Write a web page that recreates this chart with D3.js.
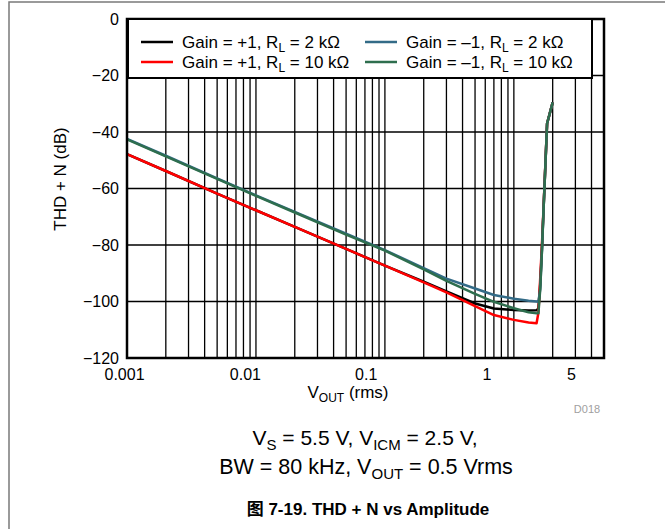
<!DOCTYPE html>
<html>
<head>
<meta charset="utf-8">
<script src="https://cdn.jsdelivr.net/npm/d3@7"></script>
<style>
  html, body { margin: 0; padding: 0; background: #fff; }
  svg { display: block; font-family: "Liberation Sans", Arial, Helvetica, "Noto Sans CJK SC", sans-serif; }
</style>
</head>
<body>
<svg id="chart" width="665" height="529"></svg>
<script>
// Output amplitude (Vrms) sample points shared by all four traces
const vout = [0.001, 0.002, 0.005, 0.01, 0.02, 0.05, 0.1, 0.2, 0.3, 0.5, 0.7, 1.0, 1.3, 1.5, 1.55, 1.6, 1.65, 1.7, 1.81, 2.0];

// THD + N (dB) for each configuration
const thdGainP1_2k  = [-47.8, -53.8, -61.8, -67.7, -73.6, -81.4, -87.3, -93.0, -96.4, -100.7, -102.5, -103.0, -103.2, -103.1, -102.5, -94.0, -81.5, -67.0, -37.0, -29.5];
const thdGainP1_10k = [-47.8, -53.8, -61.8, -67.7, -73.6, -81.4, -87.3, -93.2, -96.8, -101.6, -104.8, -106.5, -107.4, -107.7, -104.0, -92.0, -80.0, -66.5, -37.0, -29.5];
const thdGainM1_2k  = [-42.4, -48.4, -56.4, -62.4, -68.3, -76.0, -81.8, -88.2, -91.9, -95.4, -97.7, -99.0, -99.7, -100.0, -100.1, -95.8, -82.3, -67.2, -37.0, -29.5];
const thdGainM1_10k = [-42.6, -48.6, -56.6, -62.6, -68.5, -76.3, -82.0, -88.6, -92.7, -97.3, -100.1, -102.4, -103.8, -104.2, -104.2, -95.8, -82.3, -67.2, -37.0, -29.5];

const seriesGain  = ["+1", "+1", "\u20131", "\u20131"];
const seriesLoad  = ["2", "10", "2", "10"];
const seriesColor = ["#000000", "#ff0000", "#336b87", "#2e6e4e"];
const seriesData  = [thdGainP1_2k, thdGainP1_10k, thdGainM1_2k, thdGainM1_10k];

const xTicks = [0.001, 0.01, 0.1, 1, 5];
const yTicks = [0, -20, -40, -60, -80, -100, -120];

const svg = d3.select("#chart");

// page frame
svg.append("rect")
  .attr("x", 9).attr("y", 2).attr("width", 720).attr("height", 600)
  .attr("fill", "none").attr("stroke", "#7a7a7a").attr("stroke-width", 1.5);

const plot = { left: 127, right: 604, top: 19, bottom: 358 };

const x = d3.scaleLog().domain([0.001, 5]).range([plot.left, plot.right]);
const xLabel = d3.scaleLog().domain([0.001, 5]).range([124, 571]);
const y = d3.scaleLinear().domain([-120, 0]).range([plot.bottom, plot.top]);

// grid: every 1..9 multiple per decade
const xGrid = [];
for (let e = -3; e <= 0; e++) {
  for (let m = 1; m <= 9; m++) {
    const v = m * Math.pow(10, e);
    if (v > 0.001 && v < 5) xGrid.push(v);
  }
}
const grid = svg.append("g");
grid.selectAll("line.v").data(xGrid).join("line")
  .attr("x1", d => x(d)).attr("x2", d => x(d))
  .attr("y1", plot.top).attr("y2", plot.bottom)
  .attr("stroke", "#000").attr("stroke-width", 1.3);
grid.selectAll("line.h").data(yTicks.slice(1, -1)).join("line")
  .attr("x1", plot.left).attr("x2", plot.right)
  .attr("y1", d => y(d)).attr("y2", d => y(d))
  .attr("stroke", "#000").attr("stroke-width", 1.4);

// traces
const line = d3.line()
  .x((d, i) => x(vout[i]))
  .y(d => y(d));
svg.append("g").selectAll("path").data(seriesData).join("path")
  .attr("d", d => line(d))
  .attr("fill", "none")
  .attr("stroke", (d, i) => seriesColor[i])
  .attr("stroke-width", 2.5)
  .attr("stroke-linejoin", "round");

// plot frame
svg.append("rect")
  .attr("x", plot.left).attr("y", plot.top)
  .attr("width", plot.right - plot.left).attr("height", plot.bottom - plot.top)
  .attr("fill", "none").attr("stroke", "#000").attr("stroke-width", 2.5);

// legend
const legend = svg.append("g");
legend.append("rect")
  .attr("x", 128).attr("y", 19).attr("width", 464).attr("height", 59)
  .attr("fill", "#fff").attr("stroke", "#000").attr("stroke-width", 2);
const legPos = [[141, 42], [141, 62], [365, 42], [365, 62]];
seriesData.forEach((s, i) => {
  const [lx, ly] = legPos[i];
  legend.append("line")
    .attr("x1", lx).attr("x2", lx + 32).attr("y1", ly).attr("y2", ly)
    .attr("stroke", seriesColor[i]).attr("stroke-width", 2.5);
  const t = legend.append("text")
    .attr("x", lx + 41).attr("y", ly + 6)
    .attr("font-size", 17).attr("fill", "#000");
  t.append("tspan").text(`Gain = ${seriesGain[i]}, R`);
  t.append("tspan").attr("font-size", 12).attr("dy", 4).text("L");
  t.append("tspan").attr("dy", -4).text(` = ${seriesLoad[i]} k\u03A9`);
});

// axes
const xAxis = svg.append("g")
  .attr("transform", `translate(0,${plot.bottom})`)
  .call(d3.axisBottom(xLabel).tickValues(xTicks).tickFormat(d => String(d)).tickSize(0).tickPadding(11));
const yAxis = svg.append("g")
  .attr("transform", `translate(${plot.left},0)`)
  .call(d3.axisLeft(y).tickValues(yTicks).tickFormat(d3.format("d")).tickSize(0).tickPadding(8));
[xAxis, yAxis].forEach(a => {
  a.select(".domain").remove();
  a.selectAll("text").attr("font-size", 16).attr("fill", "#000")
    .attr("font-family", "'Liberation Sans', Arial, Helvetica, sans-serif");
});

// axis titles
svg.append("text")
  .attr("transform", "translate(66,179) rotate(-90)")
  .attr("text-anchor", "middle").attr("font-size", 17).attr("fill", "#000")
  .text("THD + N (dB)");

const xTitle = svg.append("text")
  .attr("x", 348).attr("y", 398)
  .attr("text-anchor", "middle").attr("font-size", 17).attr("fill", "#000");
xTitle.append("tspan").text("V");
xTitle.append("tspan").attr("font-size", 12).attr("dy", 4).text("OUT");
xTitle.append("tspan").attr("dy", -4).text(" (rms)");

svg.append("text")
  .attr("x", 587).attr("y", 413)
  .attr("text-anchor", "middle").attr("font-size", 11).attr("fill", "#a0a0a0")
  .text("D018");

// conditions
const c1 = svg.append("text")
  .attr("x", 365).attr("y", 445)
  .attr("text-anchor", "middle").attr("font-size", 21).attr("fill", "#000");
c1.append("tspan").text("V");
c1.append("tspan").attr("font-size", 15).attr("dy", 5).text("S");
c1.append("tspan").attr("dy", -5).text(" = 5.5 V, V");
c1.append("tspan").attr("font-size", 15).attr("dy", 5).text("ICM");
c1.append("tspan").attr("dy", -5).text(" = 2.5 V,");

const c2 = svg.append("text")
  .attr("x", 366).attr("y", 474)
  .attr("text-anchor", "middle").attr("font-size", 21.5).attr("fill", "#000");
c2.append("tspan").text("BW = 80 kHz, V");
c2.append("tspan").attr("font-size", 15).attr("dy", 5).text("OUT");
c2.append("tspan").attr("dy", -5).text(" = 0.5 Vrms");

svg.append("text")
  .attr("x", 368).attr("y", 515)
  .attr("text-anchor", "middle").attr("font-size", 17).attr("font-weight", "bold").attr("fill", "#000")
  .text("\u56FE 7-19. THD + N vs Amplitude");
</script>
</body>
</html>
